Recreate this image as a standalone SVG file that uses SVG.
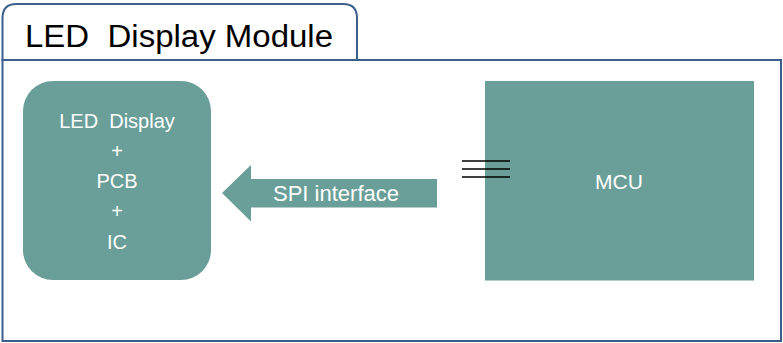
<svg xmlns="http://www.w3.org/2000/svg" width="783" height="343" viewBox="0 0 783 343">
<style>
.frame{fill:#ffffff;stroke:#3b5e8c;stroke-width:2}
.box{fill:#6a9e98}
.lbl{font-family:"Liberation Sans",Arial,sans-serif;fill:#ffffff;text-anchor:middle;white-space:pre}
.title{font-family:"Liberation Sans",Arial,sans-serif;fill:#000000;font-size:31px;white-space:pre}
.wire{stroke:#000000;stroke-width:1.4}
</style>
<rect width="783" height="343" fill="#ffffff"/>
<g id="frame">
<rect class="frame" x="2.5" y="60" width="778.5" height="281"/>
<path class="frame" d="M2.5 60 V18 Q2.5 4 16.5 4 H343 Q357 4 357 18 V60 Z"/>
<text class="title" xml:space="preserve" x="25" y="47" textLength="308" lengthAdjust="spacingAndGlyphs">LED  Display Module</text>
</g>
<g id="led-node">
<rect class="box" x="23" y="81" width="188" height="199" rx="30" ry="30"/>
<text class="lbl" xml:space="preserve" font-size="20" x="117" y="128">LED  Display</text>
<text class="lbl" font-size="20" x="117" y="158">+</text>
<text class="lbl" font-size="20" x="117" y="188">PCB</text>
<text class="lbl" font-size="20" x="117" y="218">+</text>
<text class="lbl" font-size="20" x="117" y="249">IC</text>
</g>
<g id="mcu-node">
<rect class="box" x="485" y="81" width="269" height="199.5"/>
<text class="lbl" font-size="21" x="619" y="189">MCU</text>
</g>
<g id="connectors">
<path id="spi-arrow" class="box" d="M437 179 H251 V165 L222 193 L251 221.5 V207.5 H437 Z"/>
<text class="lbl" font-size="22" x="336" y="201">SPI interface</text>
<line class="wire" x1="462" y1="161" x2="510" y2="161"/>
<line class="wire" x1="462" y1="169" x2="510" y2="169"/>
<line class="wire" x1="462" y1="177" x2="510" y2="177"/>
</g>
</svg>
